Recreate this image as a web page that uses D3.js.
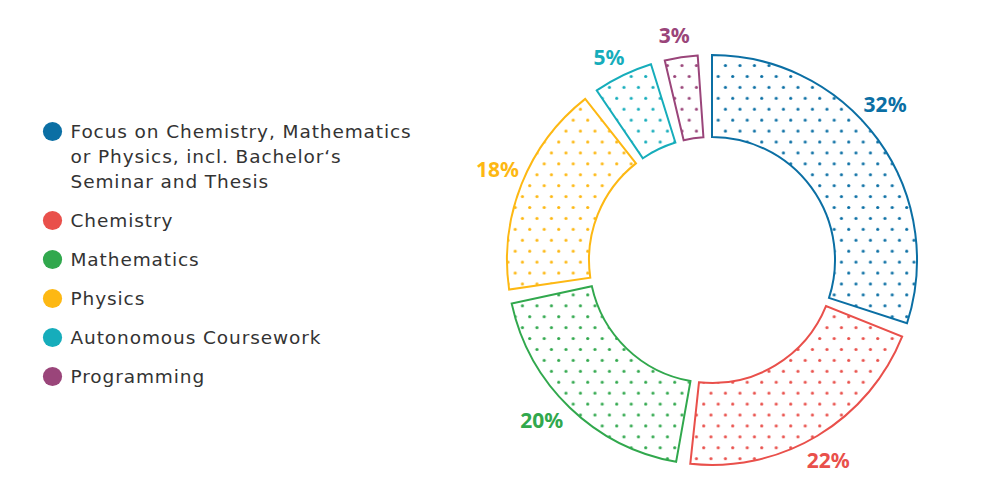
<!DOCTYPE html>
<html>
<head>
<meta charset="utf-8">
<script src="https://cdn.jsdelivr.net/npm/d3@7"></script>
<style>
  html, body { margin: 0; padding: 0; background: #ffffff; }
  svg { display: block; }
</style>
</head>
<body>
<svg id="chart" width="1000" height="504"></svg>
<script>
// ---- data ----
const categories = [
  "Focus on Chemistry, Mathematics or Physics, incl. Bachelor\u2018s Seminar and Thesis",
  "Chemistry",
  "Mathematics",
  "Physics",
  "Autonomous Coursework",
  "Programming"
];
const legendLines = [
  ["Focus on Chemistry, Mathematics", "or Physics, incl. Bachelor\u2018s", "Seminar and Thesis"],
  ["Chemistry"],
  ["Mathematics"],
  ["Physics"],
  ["Autonomous Coursework"],
  ["Programming"]
];
// slice shares as drawn
const shares = [31.1, 21.7, 19.9, 17.8, 5.8, 3.7];
// printed percentage labels
const percentLabels = ["32%", "22%", "20%", "18%", "5%", "3%"];
const colors = ["#0b6fa4", "#e9504b", "#31a84d", "#fdb813", "#16adbb", "#9a457a"];

// ---- layout ----
const svg = d3.select("#chart");
const cx = 712, cy = 260;
const outerR = 205, innerR = 123;
const deg = Math.PI / 180;
const gap = 4 * deg;

const pie = d3.pie().sort(null).value(d => d)
  .startAngle(-2 * deg).endAngle(358 * deg);
const arcs = pie(shares);

const arcGen = d3.arc().innerRadius(innerR).outerRadius(outerR);

// dot patterns (one per colour, aligned to a global grid)
const defs = svg.append("defs");
const pw = 14.5, ph = 21.84;
colors.forEach((c, i) => {
  const p = defs.append("pattern")
    .attr("id", "dots" + i)
    .attr("patternUnits", "userSpaceOnUse")
    .attr("x", 716.7 - pw / 4).attr("y", 56.7 - ph / 4)
    .attr("width", pw).attr("height", ph);
  p.append("circle").attr("cx", pw / 4).attr("cy", ph / 4).attr("r", 1.6).attr("fill", c);
  p.append("circle").attr("cx", pw * 3 / 4).attr("cy", ph * 3 / 4).attr("r", 1.6).attr("fill", c);
});

svg.append("g").selectAll("path.slice")
  .data(arcs)
  .join("path")
  .attr("class", "slice")
  .attr("d", d => arcGen({ startAngle: d.startAngle + gap / 2, endAngle: d.endAngle - gap / 2 }))
  .attr("transform", `translate(${cx},${cy})`)
  .attr("fill", (d, i) => `url(#dots${i})`)
  .attr("stroke", (d, i) => colors[i])
  .attr("stroke-width", 2)
  .attr("stroke-linejoin", "miter");

// percentage labels (placed just outside each slice)
const labelAngleOffset = [-6, 0.8, 2.8, 1.2, -1.1, -0.9];
const labelRadius = [233, 231, 234, 233, 228, 228];
const ang = (d, i) => (d.startAngle + d.endAngle) / 2 + labelAngleOffset[i] * deg;
svg.append("g").selectAll("text")
  .data(arcs)
  .join("text")
  .attr("x", (d, i) => cx + labelRadius[i] * Math.sin(ang(d, i)))
  .attr("y", (d, i) => cy - labelRadius[i] * Math.cos(ang(d, i)))
  .attr("text-anchor", "middle")
  .attr("dominant-baseline", "central")
  .attr("font-family", "'Noto Sans', sans-serif")
  .attr("font-weight", 700)
  .attr("font-size", 21)
  .attr("fill", (d, i) => colors[i])
  .text((d, i) => percentLabels[i]);

// legend
const legend = svg.append("g");
const lineH = 25, itemGap = 39;
let y = 131.5;
legendLines.forEach((lines, i) => {
  const item = legend.append("g");
  item.append("circle").attr("cx", 52.5).attr("cy", y).attr("r", 9.6).attr("fill", colors[i]);
  lines.forEach((t, j) => {
    item.append("text")
      .attr("x", 70.5)
      .attr("y", y + j * lineH)
      .attr("dominant-baseline", "central")
      .attr("font-family", "'DejaVu Sans', sans-serif")
      .attr("font-size", 18.5)
      .attr("letter-spacing", 0.9)
      .attr("fill", "#333333")
      .text(t);
  });
  y += (lines.length - 1) * lineH + itemGap;
});
</script>
</body>
</html>
